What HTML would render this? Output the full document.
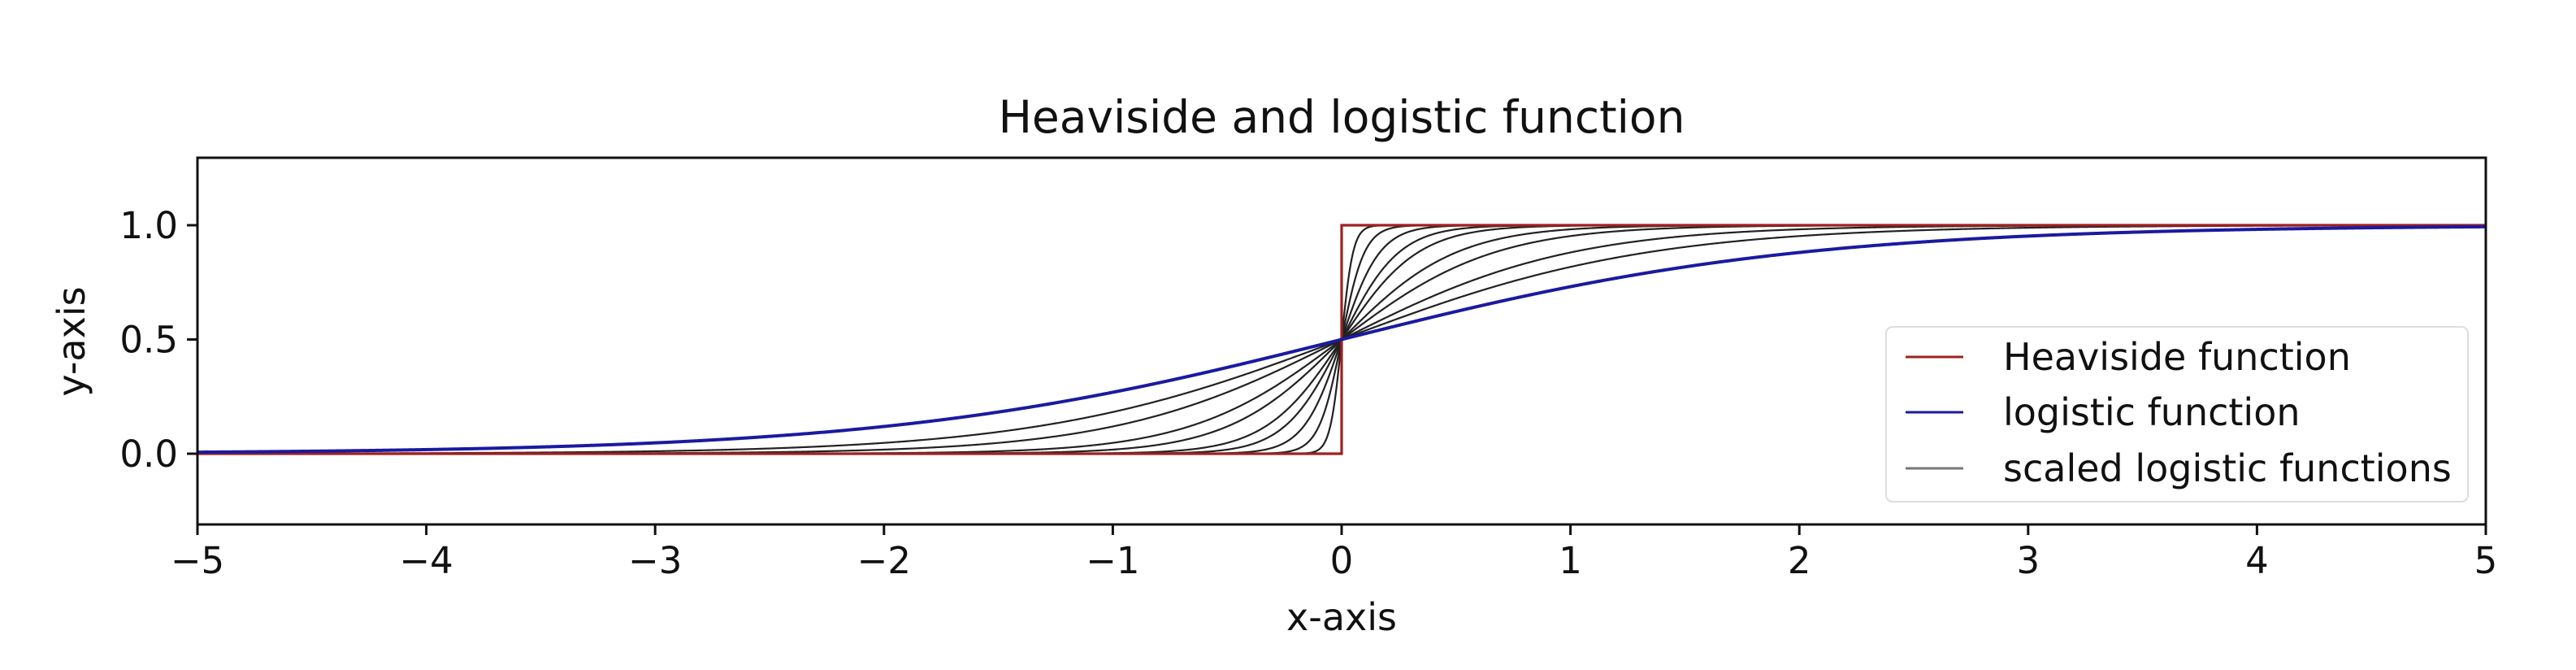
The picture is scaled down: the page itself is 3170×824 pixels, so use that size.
<!DOCTYPE html>
<html><head><meta charset="utf-8">
<style>
html,body{margin:0;padding:0;background:#fff;}
svg{display:block;font-family:"DejaVu Sans","Liberation Sans",sans-serif;}
</style></head>
<body>
<svg id="chart" width="3170" height="824" viewBox="0 0 3170 824" xmlns="http://www.w3.org/2000/svg">
<rect width="3170" height="824" fill="#fff"/>
<text x="1651" y="163" font-size="55" text-anchor="middle" fill="#111">Heaviside and logistic function</text>
<g id="plot"></g>
<text x="1651" y="775" font-size="46" text-anchor="middle" fill="#111">x-axis</text>
<text x="104" y="420" font-size="46" text-anchor="middle" fill="#111" transform="rotate(-90 104 420)">y-axis</text>
<g>
<rect x="2321" y="402" width="716" height="215" rx="8" fill="#fff" fill-opacity="0.85" stroke="#ddd" stroke-width="2"/>
<line x1="2345" y1="439" x2="2416" y2="439" stroke="#a02020" stroke-width="3"/>
<text x="2465" y="455" font-size="46" fill="#111">Heaviside function</text>
<line x1="2345" y1="507" x2="2416" y2="507" stroke="#1a1aa0" stroke-width="3"/>
<text x="2465" y="523" font-size="46" fill="#111">logistic function</text>
<line x1="2345" y1="576" x2="2416" y2="576" stroke="#777" stroke-width="3"/>
<text x="2465" y="592" font-size="46" fill="#111">scaled logistic functions</text>
</g>
</svg>
<script>
const xTicks = [-5,-4,-3,-2,-1,0,1,2,3,4,5];
const xTickLabels = ["\u22125","\u22124","\u22123","\u22122","\u22121","0","1","2","3","4","5"];
const yTicks = [0,0.5,1];
const yTickLabels = ["0.0","0.5","1.0"];
const scaleFactors = [1.5,2,3,4,6,8,12,20,40];
const logisticScale = [1];
const heavisideX = [-5,0,0,5];
const heavisideY = [0,0,1,1];

const L=243,R=3059,T=194,B=645;
const X0=-5,X1=5;
function sx(v){return L+(v-X0)/(X1-X0)*(R-L);}
function sy(v){return 558+(v-0)*(277-558);}
const NS="http://www.w3.org/2000/svg";
const plot=document.getElementById('plot');
function mk(tag,attrs){const e=document.createElementNS(NS,tag);for(const k in attrs)e.setAttribute(k,attrs[k]);return e;}
function curve(k){let d="";for(let i=0;i<=2000;i++){const x=X0+(X1-X0)*i/2000;const y=1/(1+Math.exp(-k*x));d+=(i?"L":"M")+sx(x).toFixed(2)+","+sy(y).toFixed(2);}return d;}

scaleFactors.forEach((k,i)=>{
  const p=mk('path',{d:curve(k),fill:'none',stroke:'#222','stroke-width':2.2});
  
  
  plot.appendChild(p);
});
let hd="";heavisideX.forEach((x,i)=>{hd+=(i?"L":"M")+sx(x)+","+sy(heavisideY[i]);});
const hp=mk('path',{d:hd,fill:'none',stroke:'#a02020','stroke-width':3.2});


plot.appendChild(hp);
logisticScale.forEach(k=>{
  const p=mk('path',{d:curve(k),fill:'none',stroke:'#1a1aa0','stroke-width':4});
  
  
  plot.appendChild(p);
});
const frame=mk('rect',{x:L,y:T,width:R-L,height:B-T,fill:'none',stroke:'#111','stroke-width':3});


plot.appendChild(frame);
xTicks.forEach((v,i)=>{
  const t=mk('line',{x1:sx(v),x2:sx(v),y1:B,y2:B+13,stroke:'#111','stroke-width':3});
  
  
  plot.appendChild(t);
  const tx=mk('text',{x:sx(v),y:B+60,'font-size':45,'text-anchor':'middle',fill:'#111'});
  tx.textContent=xTickLabels[i];
  
  
  plot.appendChild(tx);
});
yTicks.forEach((v,i)=>{
  const t=mk('line',{x1:L-13,x2:L,y1:sy(v),y2:sy(v),stroke:'#111','stroke-width':3});
  
  
  plot.appendChild(t);
  const tx=mk('text',{x:L-24,y:sy(v)+16,'font-size':45,'text-anchor':'end',fill:'#111'});
  tx.textContent=yTickLabels[i];
  
  
  plot.appendChild(tx);
});
</script>
</body></html>
